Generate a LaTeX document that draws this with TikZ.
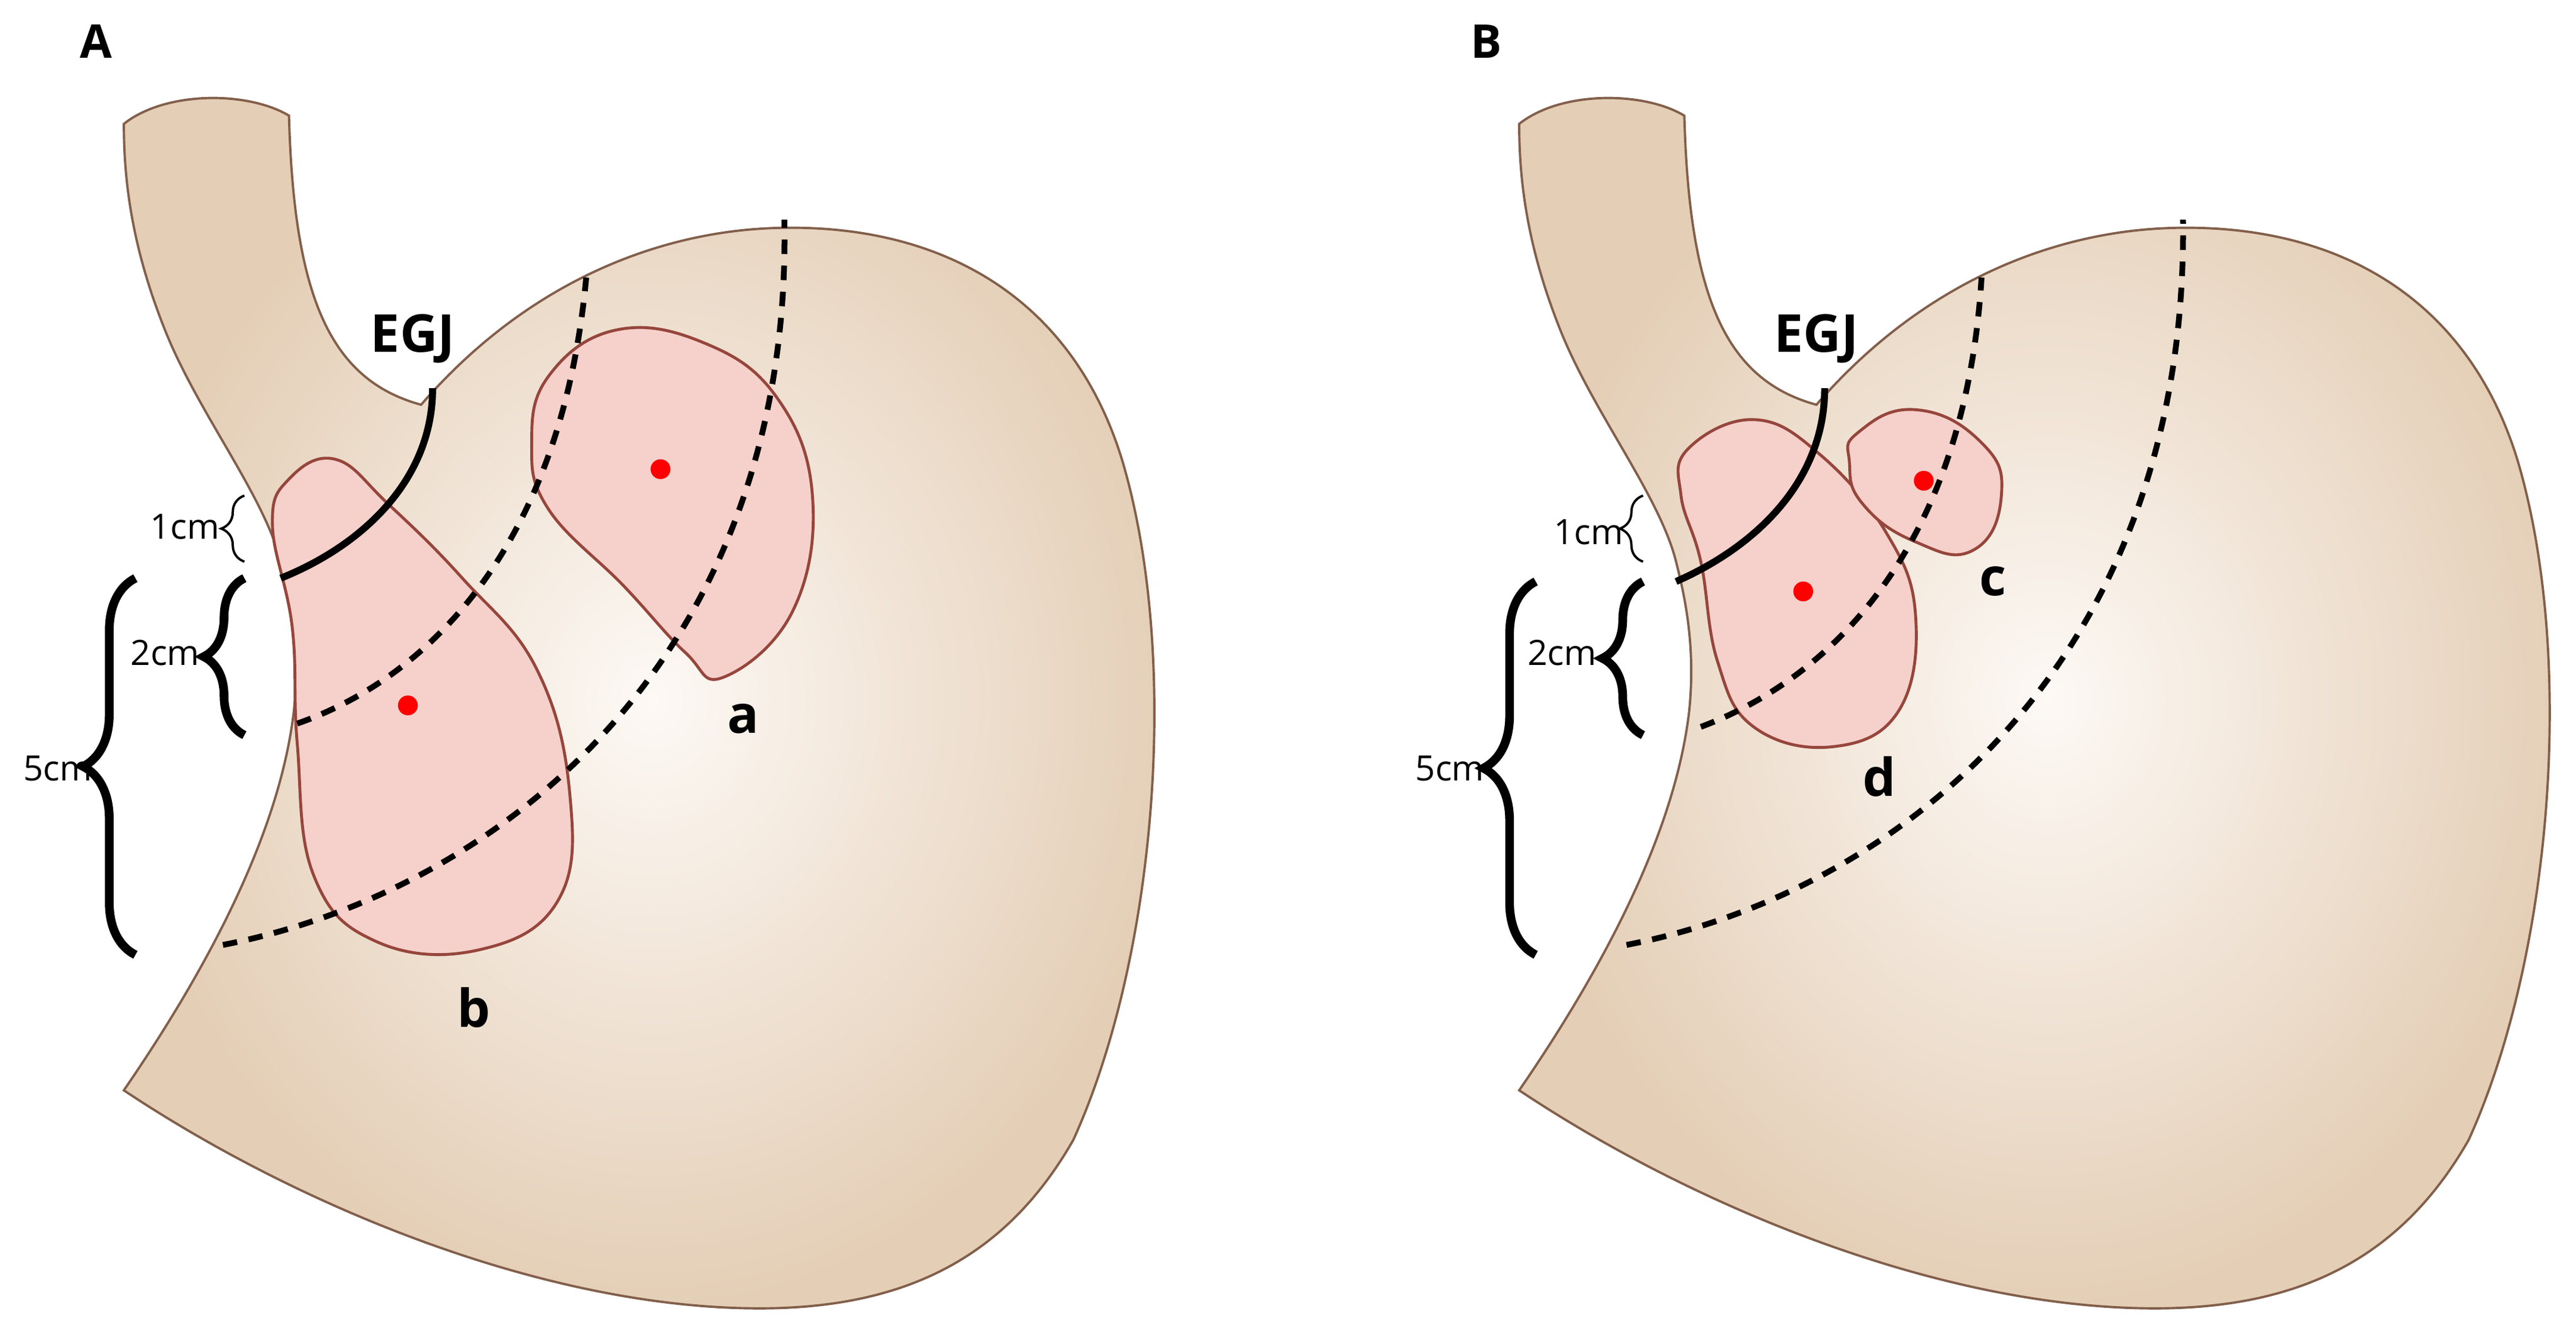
\documentclass[tikz,border=0pt]{standalone}
\usepackage{fontspec}
\setmainfont{Open Sans}
\usetikzlibrary{decorations.pathreplacing}
\definecolor{skin}{RGB}{228,206,182}
\definecolor{skinL}{RGB}{253,249,245}
\definecolor{edge}{RGB}{130,95,75}
\definecolor{lesion}{RGB}{246,208,202}
\definecolor{lesedge}{RGB}{150,70,60}
\begin{document}
\begin{tikzpicture}[x=0.01cm,y=-0.01cm,
  stomach/.style={draw=edge,line width=0.4pt,inner color=skinL,outer color=skin},
  les/.style={draw=lesedge,line width=0.5pt,fill=lesion},
  dline/.style={line width=1pt,dash pattern=on 2.5pt off 2pt},
  egj/.style={line width=1.2pt},
  dot/.style={circle,fill=red,inner sep=0pt,minimum size=0.12cm},
  lab/.style={font=\bfseries\fontsize{9}{10}\selectfont},
  cmlab/.style={font=\fontsize{6}{7}\selectfont},
  br/.style={decorate,decoration={brace,amplitude=#1}}]
\useasboundingbox (0,0) rectangle (1560,811);
\foreach \dx/\nm in {0/A,845/B}{
\begin{scope}[xshift=\dx*0.01cm]
\path[stomach] (75,75) .. controls (100,55) and (150,55) .. (175,70)
 .. controls (178,180) and (200,230) .. (255,245)
 .. controls (320,170) and (400,140) .. (470,138)
 .. controls (570,135) and (650,180) .. (680,280)
 .. controls (715,400) and (700,580) .. (650,690)
 .. controls (610,760) and (550,792) .. (460,792)
 .. controls (330,792) and (180,730) .. (75,660)
 .. controls (130,580) and (170,500) .. (178,430)
 .. controls (182,390) and (175,360) .. (170,340)
 .. controls (160,300) and (120,250) .. (100,200)
 .. controls (80,150) and (75,110) .. (75,75) -- cycle;
\end{scope}}
\node[lab,font=\bfseries\fontsize{8}{9}\selectfont] (lA) at (58,25) {A};
\node[lab,font=\bfseries\fontsize{8}{9}\selectfont] (lB) at (900,25) {B};
% Panel A
\draw[les] plot[smooth cycle,tension=0.7] coordinates {(175,290) (203,278) (235,305) (280,350) (325,405) (345,480) (338,545) (290,575) (228,570) (190,530) (180,450) (177,380) (165,318)};
\draw[les] plot[smooth cycle,tension=0.7] coordinates {(332,228) (372,200) (425,207) (470,240) (492,300) (480,370) (438,410) (415,395) (378,355) (332,308) (322,268)};
\node[dot] (dA1) at (247,427) {};
\node[dot] (dA2) at (400,284) {};
\node[lab] (la) at (450,435) {a};
\node[lab] (lb) at (287,610) {b};
\draw[dline] (180,438) .. controls (260,410) and (340,330) .. (355,168);
\draw[dline] (135,572) .. controls (300,540) and (480,400) .. (475,133);
\draw[egj] (170,350) .. controls (220,330) and (262,290) .. (262,235);
\node[lab] (egjA) at (250,205) {EGJ};
\draw[br=4pt,line width=0.4pt] (148,340) -- (148,300);
\draw[br=7pt,line width=1.5pt] (148,445) -- (148,350);
\draw[br=9pt,line width=1.5pt] (82,578) -- (82,350);
\node[cmlab] (a1) at (112,319) {1cm};
\node[cmlab] (a2) at (100,395) {2cm};
\node[cmlab] (a5) at (35,465) {5cm};
% Panel B
\draw[les] plot[smooth cycle,tension=0.7] coordinates {(1022,272) (1062,254) (1102,275) (1142,322) (1160,372) (1150,430) (1110,452) (1062,440) (1040,400) (1030,340) (1018,300)};
\draw[les] plot[smooth cycle,tension=0.8] coordinates {(1125,262) (1160,248) (1200,268) (1212,300) (1195,333) (1160,328) (1128,305) (1120,280)};
\node[dot] (dB1) at (1092,358) {};
\node[dot] (dB2) at (1165,291) {};
\node[lab] (lc) at (1207,352) {c};
\node[lab] (ld) at (1138,470) {d};
\draw[dline] (1030,440) .. controls (1110,410) and (1190,330) .. (1200,168);
\draw[dline] (985,572) .. controls (1150,540) and (1325,400) .. (1322,133);
\draw[egj] (1015,352) .. controls (1065,330) and (1105,290) .. (1105,235);
\node[lab] (egjB) at (1100,205) {EGJ};
\draw[br=4pt,line width=0.4pt] (995,340) -- (995,300);
\draw[br=7pt,line width=1.5pt] (995,445) -- (995,352);
\draw[br=9pt,line width=1.5pt] (930,578) -- (930,352);
\node[cmlab] (b1) at (962,322) {1cm};
\node[cmlab] (b2) at (946,395) {2cm};
\node[cmlab] (b5) at (878,465) {5cm};
\end{tikzpicture}
\end{document}
